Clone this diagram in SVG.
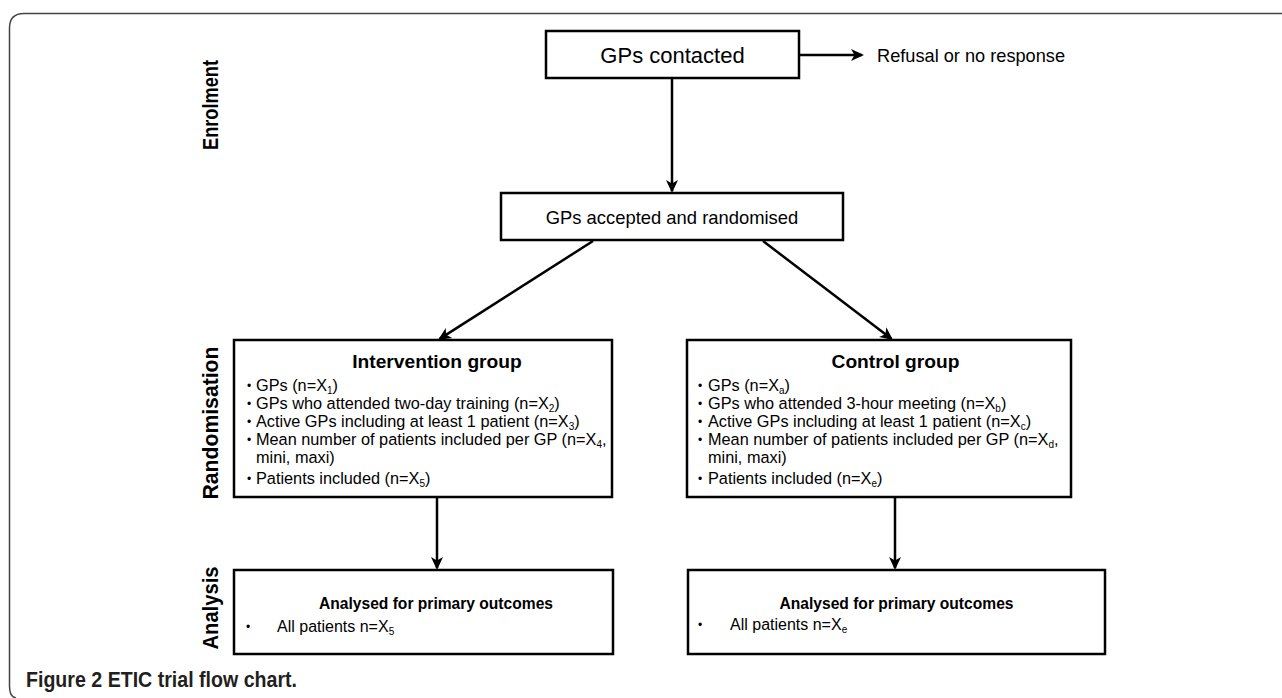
<svg xmlns="http://www.w3.org/2000/svg" width="1282" height="698" viewBox="0 0 1282 698">
<style>
.box{fill:#fff;stroke:#000;stroke-width:2.5}
.con{fill:none;stroke:#000;stroke-width:2.5}
.t{font-family:"Liberation Sans",Arial,sans-serif;fill:#000}
.b{font-size:16.3px}
.sub{font-size:10px}
.bul{font-size:12px}
.side{font-family:"Liberation Sans",Arial,sans-serif;font-weight:bold;font-size:21.5px;fill:#000}
.title{font-weight:bold}
</style>
<defs>
<marker id="ah" markerUnits="userSpaceOnUse" markerWidth="16" markerHeight="14" refX="11" refY="6" orient="auto" overflow="visible">
<path d="M0,0 L13,6 L0,12 L3.5,6 Z" fill="#000"/>
</marker>
</defs>
<rect width="1282" height="698" fill="#fff"/>
<path d="M1282,13.5 L24,13.5 Q9.5,13.5 9.5,28 L9.5,686 Q9.5,697 16,698" fill="none" stroke="#444" stroke-width="1.5"/>

<g id="stage-labels">
<text class="side" x="218" y="105" text-anchor="middle" transform="rotate(-90 218 105)" textLength="90" lengthAdjust="spacingAndGlyphs">Enrolment</text>
<text class="side" x="218" y="423" text-anchor="middle" transform="rotate(-90 218 423)" textLength="153" lengthAdjust="spacingAndGlyphs">Randomisation</text>
<text class="side" x="218" y="608" text-anchor="middle" transform="rotate(-90 218 608)" textLength="83" lengthAdjust="spacingAndGlyphs">Analysis</text>
</g>

<g id="connectors">
<line class="con" x1="800" y1="55" x2="862" y2="55" marker-end="url(#ah)"/>
<line class="con" x1="672" y1="78" x2="672" y2="191" marker-end="url(#ah)"/>
<line class="con" x1="593" y1="241" x2="439.7" y2="338.9" marker-end="url(#ah)"/>
<line class="con" x1="763" y1="241" x2="891.4" y2="338.8" marker-end="url(#ah)"/>
<line class="con" x1="437" y1="497" x2="437" y2="568" marker-end="url(#ah)"/>
<line class="con" x1="895" y1="497" x2="895" y2="568" marker-end="url(#ah)"/>
</g>

<g id="gps-contacted">
<rect class="box" x="546" y="31" width="253" height="47"/>
<text class="t" x="672.5" y="63" font-size="22" text-anchor="middle">GPs contacted</text>
</g>

<g id="refusal">
<text class="t" x="877" y="62" font-size="18.2">Refusal or no response</text>
</g>

<g id="gps-accepted">
<rect class="box" x="501" y="193" width="342" height="47"/>
<text class="t" x="672" y="224" font-size="18.4" text-anchor="middle">GPs accepted and randomised</text>
</g>

<g id="intervention-group">
<rect class="box" x="234" y="340" width="378" height="157"/>
<text class="t title" x="437" y="368" font-size="19.2" text-anchor="middle">Intervention group</text>
<g class="t bul">
<text x="247" y="390">•</text><text x="247" y="408">•</text><text x="247" y="426">•</text><text x="247" y="444">•</text><text x="247" y="483">•</text>
</g>
<g class="t b">
<text x="256" y="391">GPs (n=X<tspan class="sub" dy="2.5">1</tspan><tspan dy="-2.5">)</tspan></text>
<text x="256" y="409">GPs who attended two-day training (n=X<tspan class="sub" dy="2.5">2</tspan><tspan dy="-2.5">)</tspan></text>
<text x="256" y="427">Active GPs including at least 1 patient (n=X<tspan class="sub" dy="2.5">3</tspan><tspan dy="-2.5">)</tspan></text>
<text x="256" y="445">Mean number of patients included per GP (n=X<tspan class="sub" dy="2.5">4</tspan><tspan dy="-2.5">,</tspan></text>
<text x="256" y="463">mini, maxi)</text>
<text x="256" y="484">Patients included (n=X<tspan class="sub" dy="2.5">5</tspan><tspan dy="-2.5">)</tspan></text>
</g>
</g>

<g id="control-group">
<rect class="box" x="687" y="340" width="384" height="157"/>
<text class="t title" x="895.5" y="368" font-size="19.2" text-anchor="middle">Control group</text>
<g class="t bul">
<text x="698" y="390">•</text><text x="698" y="408">•</text><text x="698" y="426">•</text><text x="698" y="444">•</text><text x="698" y="483">•</text>
</g>
<g class="t b">
<text x="708" y="391">GPs (n=X<tspan class="sub" dy="2.5">a</tspan><tspan dy="-2.5">)</tspan></text>
<text x="708" y="409">GPs who attended 3-hour meeting (n=X<tspan class="sub" dy="2.5">b</tspan><tspan dy="-2.5">)</tspan></text>
<text x="708" y="427">Active GPs including at least 1 patient (n=X<tspan class="sub" dy="2.5">c</tspan><tspan dy="-2.5">)</tspan></text>
<text x="708" y="445">Mean number of patients included per GP (n=X<tspan class="sub" dy="2.5">d</tspan><tspan dy="-2.5">,</tspan></text>
<text x="708" y="463">mini, maxi)</text>
<text x="708" y="484">Patients included (n=X<tspan class="sub" dy="2.5">e</tspan><tspan dy="-2.5">)</tspan></text>
</g>
</g>

<g id="analysis-intervention">
<rect class="box" x="234" y="570" width="379" height="84"/>
<text class="t title" x="436" y="609" font-size="15.6" text-anchor="middle">Analysed for primary outcomes</text>
<text class="t bul" x="246" y="631">•</text>
<text class="t" x="277" y="632" font-size="16">All patients n=X<tspan class="sub" dy="2.5">5</tspan></text>
</g>

<g id="analysis-control">
<rect class="box" x="688" y="570" width="417" height="84"/>
<text class="t title" x="896.5" y="609" font-size="15.6" text-anchor="middle">Analysed for primary outcomes</text>
<text class="t bul" x="698" y="629">•</text>
<text class="t" x="730" y="630" font-size="16">All patients n=X<tspan class="sub" dy="2.5">e</tspan></text>
</g>

<g id="caption">
<text class="side" x="26" y="687" textLength="271" lengthAdjust="spacingAndGlyphs" style="fill:#231f20">Figure 2 ETIC trial flow chart.</text>
</g>
</svg>
